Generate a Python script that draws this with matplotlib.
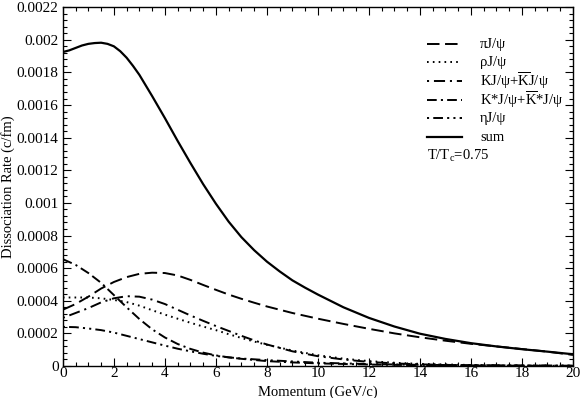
import matplotlib
matplotlib.use("Agg")
import matplotlib.pyplot as plt
from matplotlib.ticker import FixedLocator, FixedFormatter, MultipleLocator

plt.rcParams['font.family'] = ['Liberation Serif', 'DejaVu Serif']
plt.rcParams['mathtext.fontset'] = 'custom'
plt.rcParams['mathtext.rm'] = 'Liberation Serif'
plt.rcParams['mathtext.it'] = 'Liberation Serif:italic'
plt.rcParams['lines.scale_dashes'] = False

# values, in units of 1e-4 c/fm
x_sum = [0, 0.25, 0.5, 0.75, 1, 1.25, 1.5, 1.75, 2, 2.25, 2.5, 2.75, 3, 3.5, 4, 4.5, 5, 5.5, 6, 6.5, 7, 7.5, 8, 8.5, 9, 9.5, 10, 11, 12, 13, 14, 15, 16, 17, 18, 19, 20]
y_sum = [19.25, 19.35, 19.5, 19.65, 19.75, 19.8, 19.82, 19.75, 19.6, 19.3, 18.9, 18.4, 17.85, 16.55, 15.2, 13.8, 12.45, 11.15, 9.95, 8.85, 7.9, 7.1, 6.4, 5.8, 5.25, 4.8, 4.38, 3.6, 2.95, 2.42, 1.98, 1.66, 1.4, 1.2, 1.03, 0.88, 0.72]

x_pi = [0, 0.5, 1, 1.5, 2, 2.5, 3, 3.5, 4, 4.5, 5, 5.5, 6, 6.5, 7, 7.5, 8, 9, 10, 11, 12, 13, 14, 15, 16, 17, 18, 19, 20]
y_pi = [3.45, 3.8, 4.25, 4.75, 5.15, 5.45, 5.65, 5.72, 5.7, 5.55, 5.28, 4.97, 4.67, 4.38, 4.12, 3.88, 3.65, 3.25, 2.9, 2.58, 2.28, 2.0, 1.76, 1.55, 1.36, 1.2, 1.04, 0.88, 0.68]

x_rho = [0, 0.5, 1, 1.5, 2, 2.5, 3, 3.5, 4, 4.5, 5, 5.5, 6, 6.5, 7, 7.5, 8, 9, 10, 11, 12, 13, 14, 16, 18, 20]
y_rho = [4.2, 4.2, 4.2, 4.15, 4.05, 3.92, 3.7, 3.42, 3.15, 2.9, 2.65, 2.42, 2.2, 1.95, 1.72, 1.5, 1.3, 0.95, 0.66, 0.45, 0.3, 0.2, 0.13, 0.06, 0.03, 0.02]

x_k = [0, 0.5, 1, 1.5, 2, 2.5, 3, 3.5, 4, 4.5, 5, 5.5, 6, 6.5, 7, 7.5, 8, 9, 10, 11, 12, 13, 14, 16, 18, 20]
y_k = [2.95, 3.25, 3.55, 3.9, 4.15, 4.28, 4.25, 4.07, 3.8, 3.45, 3.1, 2.77, 2.45, 2.15, 1.85, 1.57, 1.32, 0.9, 0.6, 0.4, 0.25, 0.16, 0.1, 0.04, 0.02, 0.01]

x_kstar = [0, 0.5, 1, 1.5, 2, 2.5, 3, 3.5, 4, 4.5, 5, 5.5, 6, 6.5, 7, 8, 9, 10, 12, 14, 16, 18, 20]
y_kstar = [6.55, 6.2, 5.7, 5.1, 4.35, 3.6, 2.88, 2.25, 1.75, 1.35, 1.05, 0.82, 0.65, 0.53, 0.44, 0.3, 0.22, 0.16, 0.09, 0.05, 0.03, 0.02, 0.01]

x_eta = [0, 0.5, 1, 1.5, 2, 2.5, 3, 3.5, 4, 4.5, 5, 5.5, 6, 6.5, 7, 7.5, 8, 9, 10, 12, 14, 16, 18, 20]
y_eta = [2.4, 2.38, 2.3, 2.2, 2.05, 1.85, 1.65, 1.45, 1.25, 1.06, 0.9, 0.75, 0.62, 0.53, 0.46, 0.41, 0.36, 0.28, 0.2, 0.12, 0.07, 0.05, 0.03, 0.02]

labels = [r"πJ/ψ", r"ρJ/ψ", r"KJ/ψ+$\overline{\mathrm{K}}$J/ψ",
          r"K*J/ψ+$\overline{\mathrm{K}}$*J/ψ", r"ηJ/ψ", "sum"]

y_ticks = [0, 0.0002, 0.0004, 0.0006, 0.0008, 0.001, 0.0012, 0.0014, 0.0016, 0.0018, 0.002, 0.0022]
y_ticklabels = ["0", "0.0002", "0.0004", "0.0006", "0.0008", "0.001", "0.0012",
                "0.0014", "0.0016", "0.0018", "0.002", "0.0022"]

def sc(v):
    return [a * 1e-4 for a in v]

fig = plt.figure(figsize=(5.82, 3.98), dpi=100)
ax = fig.add_axes([0.108, 0.0804, 0.8765, 0.9016])

lw = 1.4
styles = [(0, (9, 4)), (0, (1.2, 3)), (0, (1.5, 3.5, 8, 3.5)),
          (0, (7, 3, 1.5, 3, 7, 3)), (0, (1.5, 3, 7, 3, 1.5, 3)), '-']
ax.plot(x_pi, sc(y_pi), color='black', lw=lw, linestyle=styles[0])
ax.plot(x_rho, sc(y_rho), color='black', lw=lw, linestyle=styles[1])
ax.plot(x_k, sc(y_k), color='black', lw=lw, linestyle=styles[2])
ax.plot(x_kstar, sc(y_kstar), color='black', lw=lw, linestyle=styles[3])
ax.plot(x_eta, sc(y_eta), color='black', lw=lw, linestyle=styles[4])
ax.plot(x_sum, sc(y_sum), color='black', lw=1.6, linestyle=styles[5])

# legend drawn by hand so the rows are evenly spaced
rows = [0.897, 0.846, 0.794, 0.742, 0.690, 0.638]
for i in range(6):
    ax.plot([0.714, 0.782], [rows[i], rows[i]], transform=ax.transAxes,
            color='black', lw=1.6 if i == 5 else lw, linestyle=styles[i])
    ax.text(0.818, rows[i], labels[i], transform=ax.transAxes,
            fontsize=10.5, va='center', ha='left')
ax.text(0.714, 0.585, r"T/T$_\mathrm{c}$=0.75", transform=ax.transAxes,
        fontsize=10.5, va='center', ha='left')

ax.set_xlim(0, 20)
ax.set_ylim(0, 0.0022)
ax.xaxis.set_major_locator(MultipleLocator(2))
ax.xaxis.set_minor_locator(MultipleLocator(0.5))
ax.yaxis.set_major_locator(FixedLocator(y_ticks))
ax.yaxis.set_major_formatter(FixedFormatter(y_ticklabels))
ax.yaxis.set_minor_locator(MultipleLocator(0.00004))
ax.tick_params(which='both', direction='in', top=True, right=True, labelsize=11, width=0.8)
ax.tick_params(which='major', length=6, pad=3)
ax.tick_params(axis='x', which='major', pad=1)
ax.tick_params(which='minor', length=3)
for s in ax.spines.values():
    s.set_linewidth(1.0)

ax.set_xlabel("Momentum (GeV/c)", fontsize=10.5)
ax.set_ylabel("Dissociation Rate (c/fm)", fontsize=10.5)
ax.xaxis.label.set_verticalalignment('center')
ax.yaxis.label.set_verticalalignment('center')
ax.xaxis.set_label_coords(0.5, -0.072)
ax.yaxis.set_label_coords(-0.108, 0.5)

fig.savefig("out.png", dpi=100)
